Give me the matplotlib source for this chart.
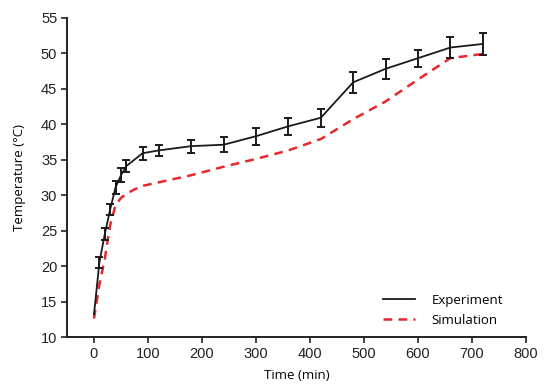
import numpy as np
import matplotlib
matplotlib.use("Agg")
import matplotlib.pyplot as plt
from matplotlib.lines import Line2D

# experiment (with error bars)
t_exp = [0, 10, 20, 30, 40, 50, 60, 90, 120, 180, 240, 300, 360, 420, 480, 540, 600, 660, 720]
T_exp = [13.2, 20.5, 24.5, 28.0, 31.1, 32.8, 34.1, 35.9, 36.3, 36.9, 37.1, 38.3, 39.7, 40.9, 45.9, 47.8, 49.3, 50.8, 51.3]
err_exp = [0, 0.8, 0.8, 0.8, 0.9, 1.0, 0.9, 0.9, 0.8, 0.9, 1.05, 1.2, 1.2, 1.3, 1.5, 1.45, 1.2, 1.45, 1.5]

# simulation
t_sim = [0, 5, 10, 15, 20, 25, 30, 40, 50, 60, 75, 90, 120, 150, 180, 240, 300, 360, 420, 480, 540, 600, 660, 720]
T_sim = [12.6, 15.0, 17.4, 19.2, 21.0, 23.5, 25.8, 28.6, 29.6, 30.2, 30.8, 31.3, 31.8, 32.3, 32.8, 34.0, 35.1,
         36.3, 37.9, 40.7, 43.2, 46.3, 49.3, 49.9]

xticks = [0, 100, 200, 300, 400, 500, 600, 700, 800]
yticks = [10, 15, 20, 25, 30, 35, 40, 45, 50, 55]

plt.rcParams['font.family'] = ['Liberation Sans', 'DejaVu Sans']

black = '#1a1a1a'
red = '#e8272c'

fig = plt.figure(figsize=(5.5, 3.92), dpi=100)
ax = fig.add_axes([0.1218, 0.1403, 0.8346, 0.8145])

ax.plot(t_exp, T_exp, color=black, lw=1.3, zorder=3)
# error bars only where there is a spread (first point has none)
ax.errorbar(t_exp[1:], T_exp[1:], yerr=err_exp[1:], fmt='none', ecolor=black,
            elinewidth=1.4, capsize=3, capthick=1.4, zorder=3)
ax.plot(t_sim, T_sim, color=red, lw=1.8, ls=(0, (3.5, 2.5)), zorder=2)

ax.set_xlim(-50, 800)
ax.set_ylim(10, 55)
ax.set_xticks(xticks)
ax.set_yticks(yticks)
ax.tick_params(labelsize=10.5, length=4, width=1.2, colors='#222222', direction='out', pad=3)
for s in ['top', 'right']:
    ax.spines[s].set_visible(False)
for s in ['left', 'bottom']:
    ax.spines[s].set_linewidth(1.4)
    ax.spines[s].set_color('#222222')

ax.set_xlabel('Time (min)', fontsize=9.5, family='Open Sans', labelpad=6)
ax.set_ylabel('Temperature (°C)', fontsize=9.5, family='Open Sans', labelpad=11)

handles = [Line2D([], [], color=black, lw=1.3),
           Line2D([], [], color=red, lw=1.8, ls=(0, (3.5, 2.5)))]
ax.legend(handles, ['Experiment', 'Simulation'], loc='upper left',
          bbox_to_anchor=(0.6745, 0.28), bbox_transform=fig.transFigure, frameon=False,
          prop={'family': 'Open Sans', 'size': 9.5}, handlelength=2.4, handletextpad=1.3,
          labelspacing=0.5)

fig.savefig('out.png', dpi=100)
